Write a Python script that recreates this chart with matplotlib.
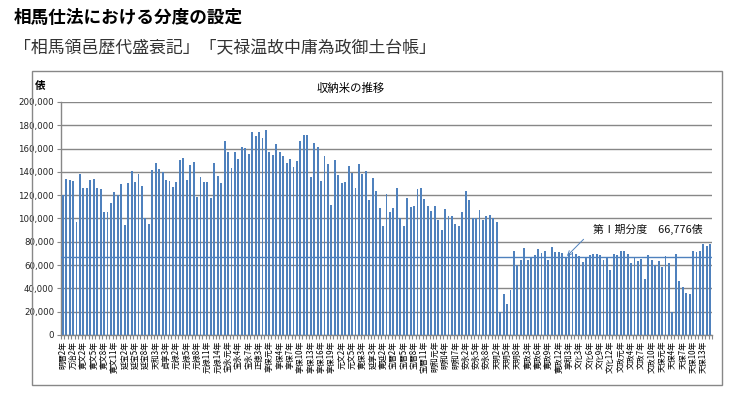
import matplotlib
matplotlib.use("Agg")
import matplotlib.pyplot as plt
from matplotlib.patches import Rectangle
import numpy as np

plt.rcParams['font.family'] = ['Noto Sans CJK JP', 'DejaVu Sans']

# 収納米 (俵), 明暦2年(1656) から 1844年まで 毎年
shuno = [
    120000, 134000, 133000, 132000, 97000, 138000, 126000, 126000, 133000, 134000,
    126000, 125500, 106000, 106000, 113500, 122600, 120000, 129800, 94600, 130700,
    140700, 131000, 138000, 128000, 100000, 95000, 141500, 147600, 142700, 139800,
    132700, 132400, 127200, 131000, 150000, 152000, 133000, 145600, 148400, 118600,
    135800, 131200, 131200, 118000, 147600, 136400, 130700, 166500, 157300, 143600,
    156700, 150700, 161600, 160200, 155600, 174500, 171000, 174200, 169300, 176200,
    157300, 154700, 163900, 157300, 153900, 147300, 151000, 143800, 149300, 166200,
    172000, 172000, 135200, 164800, 161600, 132400, 153600, 147000, 111700, 149900,
    137000, 130700, 131500, 145300, 139000, 126000, 147000, 137800, 140700, 116000,
    134700, 123200, 109200, 93700, 121000, 105700, 109200, 126000, 100000, 93400,
    117200, 109500, 110900, 125500, 126600, 116600, 110600, 106600, 110600, 98600,
    90300, 108000, 102000, 102300, 95000, 93400, 105700, 123500, 116000, 100300,
    100300, 107700, 98600, 102000, 103400, 100000, 96800, 19500, 35000, 26600,
    39000, 72500, 60500, 64500, 75000, 64800, 67000, 68800, 74000, 70200,
    72200, 64200, 75600, 71000, 71000, 70200, 67300, 70200, 71300, 69300,
    67600, 62800, 65900, 68800, 69300, 69300, 68800, 64800, 66500, 56200,
    69300, 68800, 71900, 71900, 69300, 61900, 67300, 63600, 65600, 48400,
    68800, 64500, 60200, 63600, 58500, 67900, 61900, 19500, 69300, 46700,
    41500, 36400, 35200, 71900, 71000, 71900, 77700, 76500, 78500,
]

# 3年ごとの目盛りラベル
tick_labels = [
    '明暦2年', '万治2年', '寛文2年', '寛文5年', '寛文8年', '寛文11年', '延宝2年',
    '延宝5年', '延宝8年', '天和3年', '貞享3年', '元禄2年', '元禄5年', '元禄8年',
    '元禄11年', '元禄14年', '宝永元年', '宝永4年', '宝永7年', '正徳3年', '享保元年',
    '享保4年', '享保7年', '享保10年', '享保13年', '享保16年', '享保19年', '元文2年',
    '元文5年', '寛保3年', '延享3年', '寛延2年', '宝暦2年', '宝暦5年', '宝暦8年',
    '宝暦11年', '明和元年', '明和4年', '明和7年', '安永2年', '安永5年', '安永8年',
    '天明2年', '天明5年', '天明8年', '寛政3年', '寛政6年', '寛政9年', '寛政12年',
    '享和3年', '文化3年', '文化6年', '文化9年', '文化12年', '文政元年', '文政4年',
    '文政7年', '文政10年', '天保元年', '天保4年', '天保7年', '天保10年', '天保13年',
]

bundo = 66776
yticks = [0, 20000, 40000, 60000, 80000, 100000, 120000, 140000, 160000, 180000, 200000]

W, H = 738, 394
fig = plt.figure(figsize=(W / 100, H / 100), dpi=100)
ax = fig.add_axes([61 / W, 1 - 335 / H, (712 - 61) / W, (335 - 102) / H])

grid_c = '#878787'
bar_c = '#4F81BD'

x = np.arange(len(shuno))
ax.bar(x, shuno, width=0.58, color=bar_c, zorder=3)
ax.axhline(bundo, color=bar_c, lw=1, zorder=4)

ax.set_xlim(-0.5, len(shuno) - 0.5)
ax.set_ylim(0, 200000)
ax.set_yticks(yticks)
ax.set_yticklabels([f'{v:,}' for v in yticks], fontsize=6.2, color='#222222',
                   family=['DejaVu Sans'])
ax.grid(axis='y', color=grid_c, lw=1, zorder=1)

ax.set_xticks(np.arange(0, len(shuno), 3)[:len(tick_labels)])
ax.set_xticklabels(tick_labels, rotation=90, fontsize=5.7, va='top', ha='center')
ax.set_xticks(np.arange(-0.5, len(shuno), 1), minor=True)
ax.tick_params(axis='x', which='major', length=0, pad=4)
ax.tick_params(axis='x', which='minor', length=3, color=grid_c, width=0.8)
ax.tick_params(axis='y', length=3, color=grid_c, width=0.8, pad=2)

for s in ['top', 'right']:
    ax.spines[s].set_visible(False)
for s in ['left', 'bottom']:
    ax.spines[s].set_color(grid_c)
    ax.spines[s].set_linewidth(1)

ax.annotate('第Ⅰ期分度　66,776俵', xy=(146.4, 67800), xytext=(154, 90500),
            fontsize=7.8, va='center', ha='left', color='#111111',
            arrowprops=dict(arrowstyle='->', color=bar_c, lw=0.7,
                            relpos=(0, 0.5), shrinkA=7, shrinkB=0))

# チャート枠・見出し
fig.patches.append(Rectangle((32 / W, 1 - 385 / H), (722 - 32) / W, (385 - 71) / H,
                             transform=fig.transFigure, fill=False,
                             ec=grid_c, lw=1))
fig.text(351 / W, 1 - 88 / H, '収納米の推移', fontsize=8.2, ha='center', va='center')
fig.text(40 / W, 1 - 86 / H, '俵', fontsize=7.5, ha='center', va='center',
         fontweight='bold')
fig.text(14 / W, 1 - 18 / H, '相馬仕法における分度の設定', fontsize=12.7,
         fontweight='bold', ha='left', va='center')
fig.text(14 / W, 1 - 48 / H, '「相馬領邑歴代盛衰記」「天禄温故中庸為政御土台帳」',
         fontsize=12.2, ha='left', va='center', color='#333333')

fig.savefig('out.png', dpi=100)
